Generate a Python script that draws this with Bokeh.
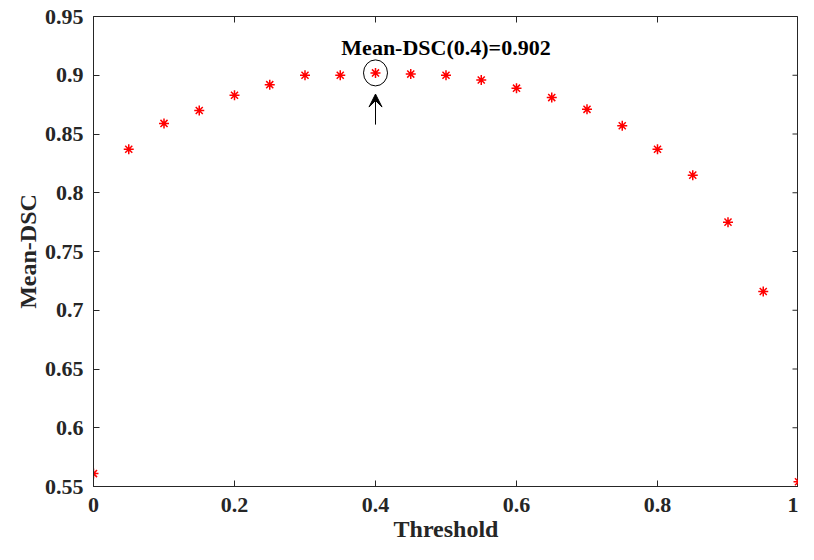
import math
from bokeh.plotting import figure
from bokeh.models import Range1d, FixedTicker, Label, Arrow, VeeHead
from bokeh.embed import file_html
from bokeh.resources import INLINE

# ---- data ----
thresholds = [0.0, 0.05, 0.10, 0.15, 0.20, 0.25, 0.30, 0.35, 0.40, 0.45, 0.50,
              0.55, 0.60, 0.65, 0.70, 0.75, 0.80, 0.85, 0.90, 0.95, 1.0]
mean_dsc = [0.561, 0.837, 0.859, 0.870, 0.883, 0.892, 0.900, 0.900, 0.902, 0.901, 0.900,
            0.896, 0.889, 0.881, 0.871, 0.857, 0.837, 0.815, 0.775, 0.716, 0.554]
x_ticks = [0, 0.2, 0.4, 0.6, 0.8, 1.0]
x_tick_labels = ["0", "0.2", "0.4", "0.6", "0.8", "1"]
y_ticks = [0.55, 0.6, 0.65, 0.7, 0.75, 0.8, 0.85, 0.9, 0.95]
y_tick_labels = ["0.55", "0.6", "0.65", "0.7", "0.75", "0.8", "0.85", "0.9", "0.95"]

best_i = max(range(len(mean_dsc)), key=lambda i: mean_dsc[i])
best_x, best_y = thresholds[best_i], mean_dsc[best_i]

FONT = "Liberation Serif"
AX = "#262626"
X0, X1 = 0, 1
Y0, Y1 = 0.55, 0.95

p = figure(width=798, height=544, output_backend="svg", toolbar_location=None,
           x_range=Range1d(X0, X1), y_range=Range1d(Y0, Y1),
           min_border_left=93, min_border_top=16, min_border_right=0, min_border_bottom=10)
p.grid.visible = False
p.outline_line_color = AX
p.outline_line_width = 1
p.background_fill_color = "white"
p.border_fill_color = "white"

p.xaxis.ticker = FixedTicker(ticks=x_ticks)
p.xaxis.major_label_overrides = dict(zip(x_ticks, x_tick_labels))
p.yaxis.ticker = FixedTicker(ticks=y_ticks)
p.yaxis.major_label_overrides = dict(zip(y_ticks, y_tick_labels))
p.xaxis.axis_label = "Threshold"
p.yaxis.axis_label = "Mean-DSC"

for ax in (p.xaxis[0], p.yaxis[0]):
    ax.axis_line_color = AX
    ax.major_tick_line_color = AX
    ax.major_tick_in = 6
    ax.major_tick_out = 0
    ax.minor_tick_line_color = None
    ax.major_label_text_font = FONT
    ax.major_label_text_font_style = "bold"
    ax.major_label_text_font_size = "22px"
    ax.major_label_text_color = AX
    ax.axis_label_text_font = FONT
    ax.axis_label_text_font_style = "bold"
    ax.axis_label_text_font_size = "24px"
    ax.axis_label_text_color = AX
p.xaxis.major_label_standoff = 11
p.xaxis.axis_label_standoff = 1
p.yaxis.major_label_standoff = 10
p.yaxis.axis_label_standoff = 1

# mirrored inward ticks on top and right (screen-length rays)
p.ray(x=x_ticks, y=[Y1] * len(x_ticks), length=6, length_units="screen",
      angle=-math.pi / 2, line_color=AX, line_width=1)
p.ray(x=[X1] * len(y_ticks), y=y_ticks, length=6, length_units="screen",
      angle=math.pi, line_color=AX, line_width=1)

p.scatter(thresholds, mean_dsc, marker="asterisk", size=10, line_color="red",
          line_width=1.5)

# annotation
p.ellipse(x=[best_x], y=[best_y], width=24, height=26, width_units="screen",
          height_units="screen", fill_color=None, line_color="black", line_width=1)
p.add_layout(Arrow(end=VeeHead(size=13, fill_color="black", line_color="black"),
                   x_start=best_x, y_start=best_y - 0.044,
                   x_end=best_x, y_end=best_y - 0.018,
                   line_color="black", line_width=1))
p.add_layout(Label(x=0.5, y=best_y + 0.022,
                   text=f"Mean-DSC({best_x:g})={best_y:.3f}",
                   text_font=FONT, text_font_style="bold", text_font_size="22px",
                   text_color="black", text_align="center", text_baseline="middle"))

open("out.html", "w").write(file_html(p, INLINE))
